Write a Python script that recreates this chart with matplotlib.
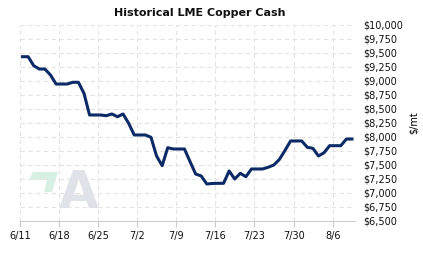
import numpy as np
import pandas as pd
import matplotlib
matplotlib.use("Agg")
import matplotlib.pyplot as plt
import matplotlib.dates as mdates
from matplotlib.patches import Polygon
from matplotlib.ticker import FuncFormatter

# daily LME copper cash price, $/mt
dates = pd.date_range("2022-06-11 11:00", periods=60, freq="D")
price = [9434, 9434, 9273, 9214, 9214, 9107, 8946, 8946, 8946, 8977,
         8977, 8780, 8393, 8393, 8393, 8380, 8411, 8362, 8411, 8245,
         8036, 8036, 8036, 7995, 7661, 7488, 7809, 7786, 7786, 7786,
         7559, 7339, 7304, 7161, 7170, 7173, 7173, 7393, 7250, 7352,
         7291, 7429, 7429, 7429, 7460, 7500, 7600, 7760, 7929, 7929,
         7929, 7816, 7798, 7661, 7720, 7845, 7845, 7845, 7964, 7964]
xticks = pd.date_range("2022-06-11", periods=9, freq="7D")
yticks = np.arange(6500, 10001, 250)

fig = plt.figure(figsize=(4.23, 2.57), dpi=100)
ax = fig.add_axes([20/423, 1-221/257, 335/423, 196/257])

# faint logo watermark (pixel positions -> axes fraction)
def px(x, y):
    return ((x - 20) / 335, (221 - y) / 196)

logo = [px(33, 172), px(58, 172), px(52, 192), px(44, 192), px(47, 180), px(29, 180)]
ax.add_patch(Polygon(logo, closed=True, transform=ax.transAxes,
                     color="#d6f1e4", lw=0, zorder=0))
ax.text(*px(79, 208), "A", transform=ax.transAxes, ha="center", va="baseline",
        fontsize=37, fontweight="bold", color="#dfe2e9", zorder=0)

ax.plot(dates, price, color="#0c2b66", lw=2.2, solid_joinstyle="round", zorder=3)

ax.set_xlim(pd.Timestamp("2022-06-11"), pd.Timestamp("2022-08-10"))
ax.set_ylim(6500, 10000)
ax.set_xticks(xticks)
ax.xaxis.set_major_formatter(FuncFormatter(
    lambda v, p: "%d/%d" % (mdates.num2date(v).month, mdates.num2date(v).day)))
ax.set_yticks(yticks)
ax.yaxis.set_major_formatter(FuncFormatter(lambda v, p: "${:,.0f}".format(v)))
ax.yaxis.tick_right()
ax.yaxis.set_label_position("right")
ax.set_ylabel("$/mt", fontsize=7, labelpad=4)

ax.grid(True, color="#e3e3e3", ls=(0, (4, 3)), lw=0.8)
ax.tick_params(axis="y", length=0, pad=6, labelsize=7, colors="#111111")
ax.tick_params(axis="x", length=4, color="#cccccc", pad=3, labelsize=7, labelcolor="#111111")
for s in ["top", "right", "left"]:
    ax.spines[s].set_visible(False)
ax.spines["bottom"].set_color("#cccccc")

fig.text(200/423, 1-13/257, "Historical LME Copper Cash", ha="center", va="center",
         fontsize=8, fontweight="bold", color="#111111")

fig.savefig("out.png", dpi=100)
